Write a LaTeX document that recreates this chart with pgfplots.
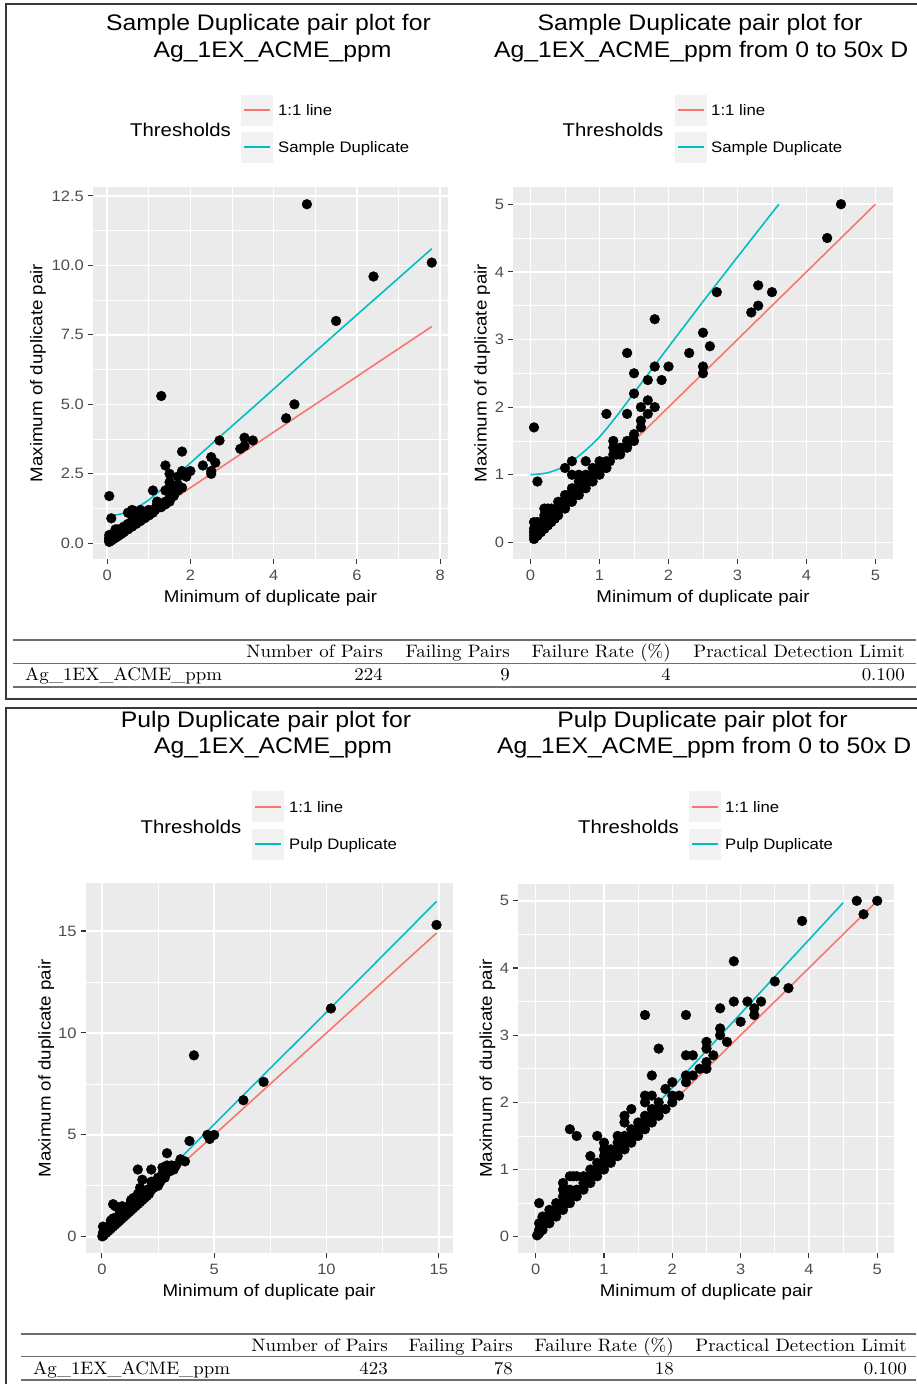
\documentclass[border=0pt]{standalone}
\usepackage{fontspec}
\usepackage{pgfplots}
\pgfplotsset{compat=1.18}
\usepackage{pgfplotstable}
\newfontfamily\arial[FakeStretch=1.1]{Liberation Sans}
\newfontfamily\lmr[FakeStretch=1.05]{lmroman10-regular.otf}
\definecolor{ggbg}{HTML}{EBEBEB}
\definecolor{keybg}{HTML}{F2F2F2}
\definecolor{ggred}{HTML}{F8766D}
\definecolor{ggteal}{HTML}{00BFC4}
\definecolor{tickc}{HTML}{333333}
\definecolor{ticklc}{HTML}{4D4D4D}
\definecolor{framec}{HTML}{3A3A3A}
\definecolor{rulec}{HTML}{6E6E6E}
\newcommand{\ttl}{\arial\fontsize{22.5}{27}\selectfont}
\newcommand{\axl}{\arial\fontsize{17}{20}\selectfont}
\newcommand{\tkl}{\arial\fontsize{15}{18}\selectfont}
\newcommand{\lgt}{\arial\fontsize{18.5}{22}\selectfont}
\newcommand{\lgl}{\arial\fontsize{15.2}{18}\selectfont}
\newcommand{\tbl}{\lmr\fontsize{18}{21}\selectfont}

\pgfplotstableread{
x y
0.05 0.05
0.05 0.1
0.05 0.15
0.05 0.2
0.05 0.3
0.05 1.7
0.1 0.1
0.1 0.15
0.1 0.2
0.1 0.3
0.1 0.9
0.15 0.15
0.15 0.2
0.15 0.3
0.2 0.2
0.2 0.25
0.2 0.3
0.2 0.4
0.2 0.5
0.25 0.25
0.25 0.3
0.25 0.4
0.25 0.5
0.3 0.3
0.3 0.35
0.3 0.4
0.3 0.5
0.35 0.35
0.35 0.45
0.4 0.4
0.4 0.5
0.4 0.6
0.45 0.5
0.45 0.6
0.5 0.5
0.5 0.6
0.5 0.7
0.5 1.1
0.55 0.6
0.55 0.7
0.6 0.6
0.6 0.7
0.6 0.8
0.6 1.0
0.6 1.2
0.65 0.7
0.65 0.8
0.7 0.7
0.7 0.8
0.7 0.9
0.7 1.0
0.75 0.8
0.75 0.9
0.8 0.8
0.8 0.9
0.8 1.0
0.8 1.2
0.85 0.9
0.9 0.9
0.9 1.0
0.9 1.1
0.95 1.0
1.0 1.0
1.0 1.1
1.0 1.2
1.05 1.1
1.1 1.1
1.1 1.2
1.1 1.9
1.15 1.2
1.2 1.3
1.2 1.4
1.2 1.5
1.25 1.3
1.3 1.3
1.3 1.4
1.3 5.3
1.35 1.4
1.4 1.4
1.4 1.5
1.4 1.9
1.4 2.8
1.45 1.5
1.5 1.5
1.5 1.6
1.5 2.2
1.5 2.5
1.6 1.7
1.6 1.8
1.6 2.0
1.7 1.9
1.7 2.1
1.7 2.4
1.8 2.0
1.8 2.6
1.8 3.3
1.9 2.4
2.0 2.6
2.3 2.8
2.5 2.5
2.5 2.6
2.5 3.1
2.6 2.9
2.7 3.7
3.2 3.4
3.3 3.5
3.3 3.8
3.5 3.7
4.3 4.5
4.5 5.0
4.8 12.2
5.5 8.0
6.4 9.6
7.8 10.1
}\sampledata

\pgfplotstableread{
x y
0.02 0.02
0.05 0.05
0.05 0.1
0.05 0.2
0.05 0.5
0.1 0.1
0.1 0.15
0.1 0.2
0.1 0.3
0.15 0.2
0.15 0.3
0.2 0.2
0.2 0.3
0.2 0.4
0.25 0.3
0.3 0.3
0.3 0.4
0.3 0.5
0.35 0.4
0.4 0.4
0.4 0.5
0.4 0.6
0.4 0.7
0.4 0.8
0.45 0.5
0.45 0.7
0.5 0.5
0.5 0.6
0.5 0.7
0.5 0.9
0.5 1.6
0.55 0.6
0.55 0.9
0.6 0.6
0.6 0.7
0.6 0.9
0.6 1.5
0.65 0.7
0.7 0.7
0.7 0.8
0.7 0.9
0.75 0.8
0.8 0.8
0.8 0.9
0.8 1.0
0.8 1.2
0.85 0.9
0.9 0.9
0.9 1.0
0.9 1.1
0.9 1.5
0.95 1.0
1.0 1.0
1.0 1.1
1.0 1.2
1.0 1.3
1.0 1.4
1.05 1.1
1.1 1.1
1.1 1.2
1.1 1.3
1.15 1.2
1.2 1.2
1.2 1.3
1.2 1.4
1.2 1.5
1.25 1.3
1.3 1.3
1.3 1.4
1.3 1.5
1.3 1.7
1.3 1.8
1.35 1.4
1.4 1.4
1.4 1.5
1.4 1.6
1.4 1.9
1.45 1.5
1.5 1.5
1.5 1.6
1.5 1.7
1.55 1.6
1.6 1.6
1.6 1.7
1.6 1.8
1.6 2.0
1.6 2.1
1.6 3.3
1.65 1.7
1.7 1.7
1.7 1.8
1.7 1.9
1.7 2.1
1.7 2.4
1.75 1.8
1.8 1.8
1.8 1.9
1.8 2.0
1.8 2.8
1.9 1.9
1.9 2.2
2.0 2.0
2.0 2.1
2.0 2.3
2.1 2.1
2.2 2.3
2.2 2.4
2.2 2.7
2.2 3.3
2.3 2.4
2.3 2.7
2.4 2.5
2.5 2.5
2.5 2.6
2.5 2.8
2.5 2.9
2.6 2.7
2.7 3.0
2.7 3.1
2.7 3.4
2.8 2.9
2.9 3.5
2.9 4.1
3.0 3.2
3.1 3.5
3.2 3.3
3.2 3.4
3.3 3.5
3.5 3.8
3.7 3.7
3.9 4.7
4.1 8.9
4.7 5.0
4.8 4.8
5.0 5.0
6.3 6.7
7.2 7.6
10.2 11.2
14.9 15.3
}\pulpdata

\pgfplotsset{gg/.style={
  scale only axis,
  anchor=south west,
  axis background/.style={fill=ggbg},
  axis line style={draw=none},
  grid=both,
  major grid style={white, line width=1.5pt},
  minor grid style={white, line width=0.75pt},
  tick align=outside, tick pos=left,
  major tick length=5pt, minor tick length=0pt,
  every tick/.style={color=tickc, line width=1.1pt},
  minor tick num=1,
  /pgf/number format/assume math mode=true,
  ticklabel style={font=\tkl, text=ticklc, inner sep=0pt},
  xticklabel style={anchor=north, yshift=-6pt},
  yticklabel style={anchor=east, xshift=-4pt},
  xlabel style={font=\axl, anchor=base, at={(axis description cs:0.5,0)}, yshift=-43.5pt},
  xlabel={Minimum of duplicate pair},
  ylabel={Maximum of duplicate pair},
  pts/.style={only marks, mark=*, mark size=4.9pt, draw=black, fill=black},
  redl/.style={ggred, line width=1.6pt, no marks},
  teall/.style={ggteal, line width=1.6pt, no marks, smooth},
}}

\begin{document}
\begin{tikzpicture}[x=1pt,y=1pt]
\path[use as bounding box] (0,0) rectangle (916,-1384);

% frames
\draw[framec, line width=2pt] (925,-3.7) -- (5.7,-3.7) -- (5.7,-699) -- (925,-699);
\draw[framec, line width=2pt] (925,-708) -- (6,-708) -- (6,-1395);

% ---------------- Top-left ----------------
\begin{axis}[gg, at={(93pt,-559pt)}, width=355pt, height=372pt,
  xmin=-0.34, xmax=8.19, ymin=-0.565, ymax=12.82,
  xtick={0,2,4,6,8}, ytick={0,2.5,5,7.5,10,12.5},
  xticklabels={0,2,4,6,8}, yticklabels={0.0,2.5,5.0,7.5,10.0,12.5},
  ylabel style={font=\axl, anchor=base, at={(axis description cs:-0.1423,0.5)}}]
\addplot[pts] table {\sampledata};
\addplot[redl] coordinates {(0.05,0.05) (7.8,7.8)};
\addplot[teall] coordinates {(0.05,1.0) (0.25,1.03) (0.5,1.13) (0.75,1.32) (1.0,1.56) (1.25,1.87) (1.5,2.21) (1.75,2.55) (2.0,2.89) (2.5,3.56) (3.0,4.22) (3.5,4.88) (4.0,5.55) (5.0,6.89) (6.0,8.22) (7.0,9.54) (7.8,10.6)};
\end{axis}

% ---------------- Top-right ----------------
\begin{axis}[gg, at={(513.3pt,-559.3pt)}, width=379.4pt, height=372pt,
  xmin=-0.25, xmax=5.25, ymin=-0.25, ymax=5.25,
  xtick={0,1,2,3,4,5}, ytick={0,1,2,3,4,5},
  xticklabels={0,1,2,3,4,5}, yticklabels={0,1,2,3,4,5},
  ylabel style={font=\axl, anchor=base, at={(axis description cs:-0.0706,0.5)}}]
\addplot[pts, restrict x to domain=-1:5.05, restrict y to domain=-1:5.2] table {\sampledata};
\addplot[redl] coordinates {(0,0) (5,5)};
\addplot[teall] coordinates {(0,1.0) (0.25,1.03) (0.5,1.13) (0.75,1.32) (1.0,1.56) (1.25,1.87) (1.5,2.21) (1.75,2.55) (2.0,2.89) (2.5,3.56) (3.0,4.22) (3.6,5.0)};
\end{axis}

% ---------------- Bottom-left ----------------
\begin{axis}[gg, at={(85.7pt,-1253.3pt)}, width=367pt, height=370pt,
  xmin=-0.72, xmax=15.62, ymin=-0.81, ymax=17.34,
  xtick={0,5,10,15}, ytick={0,5,10,15},
  xticklabels={0,5,10,15}, yticklabels={0,5,10,15},
  ylabel style={font=\axl, anchor=base, at={(axis description cs:-0.0959,0.5)}}]
\addplot[pts] table {\pulpdata};
\addplot[redl] coordinates {(0,0) (14.9,14.9)};
\addplot[teall] coordinates {(0.02,0.28) (0.25,0.38) (0.5,0.6) (1.0,1.12) (2.0,2.22) (3.0,3.32) (4.0,4.42) (6.0,6.62) (10.0,11.02) (14.9,16.45)};
\end{axis}

% ---------------- Bottom-right ----------------
\begin{axis}[gg, at={(518.3pt,-1253.3pt)}, width=376pt, height=369.3pt,
  xmin=-0.255, xmax=5.25, ymin=-0.247, ymax=5.25,
  xtick={0,1,2,3,4,5}, ytick={0,1,2,3,4,5},
  xticklabels={0,1,2,3,4,5}, yticklabels={0,1,2,3,4,5},
  ylabel style={font=\axl, anchor=base, at={(axis description cs:-0.07,0.5)}}]
\addplot[pts, restrict x to domain=-1:5.05, restrict y to domain=-1:5.2] table {\pulpdata};
\addplot[redl] coordinates {(0,0) (5,5)};
\addplot[teall] coordinates {(0.02,0.28) (0.1,0.3) (0.25,0.38) (0.5,0.6) (0.75,0.85) (1.0,1.12) (1.5,1.67) (2.0,2.22) (3.0,3.32) (4.0,4.42) (4.5,4.97)};
\end{axis}

% ---------------- Titles ----------------
\node[font=\ttl, anchor=base, inner sep=0pt] at (268.5,-30.5) {Sample Duplicate pair plot for};
\node[font=\ttl, anchor=base, inner sep=0pt] at (272.5,-57) {Ag\_1EX\_ACME\_ppm};
\node[font=\ttl, anchor=base, inner sep=0pt] at (700,-30.5) {Sample Duplicate pair plot for};
\node[font=\ttl, anchor=base west, inner sep=0pt] at (494,-57) {Ag\_1EX\_ACME\_ppm from 0 to 50x D};
\node[font=\ttl, anchor=base, inner sep=0pt] at (266,-727) {Pulp Duplicate pair plot for};
\node[font=\ttl, anchor=base, inner sep=0pt] at (273,-753.5) {Ag\_1EX\_ACME\_ppm};
\node[font=\ttl, anchor=base, inner sep=0pt] at (702.5,-727) {Pulp Duplicate pair plot for};
\node[font=\ttl, anchor=base west, inner sep=0pt] at (497,-753.5) {Ag\_1EX\_ACME\_ppm from 0 to 50x D};

% ---------------- Legends ----------------
% top-left
\node[font=\lgt, anchor=base west, inner sep=0pt] at (130,-136.5) {Thresholds};
\fill[keybg] (241,-94.5) rectangle (273,-125.5);
\fill[keybg] (241,-131.5) rectangle (273,-162.5);
\draw[ggred, line width=1.8pt] (244,-110) -- (270,-110);
\draw[ggteal, line width=1.8pt] (244,-147) -- (270,-147);
\node[font=\lgl, anchor=base west, inner sep=0pt] at (278,-115.4) {1:1 line};
\node[font=\lgl, anchor=base west, inner sep=0pt] at (278,-152.4) {Sample Duplicate};
% top-right
\node[font=\lgt, anchor=base west, inner sep=0pt] at (562.5,-136.5) {Thresholds};
\fill[keybg] (675,-94.5) rectangle (707,-125.5);
\fill[keybg] (675,-131.5) rectangle (707,-162.5);
\draw[ggred, line width=1.8pt] (678,-110) -- (704,-110);
\draw[ggteal, line width=1.8pt] (678,-147) -- (704,-147);
\node[font=\lgl, anchor=base west, inner sep=0pt] at (711,-115.4) {1:1 line};
\node[font=\lgl, anchor=base west, inner sep=0pt] at (711,-152.4) {Sample Duplicate};
% bottom-left
\node[font=\lgt, anchor=base west, inner sep=0pt] at (140.5,-833.5) {Thresholds};
\fill[keybg] (252,-791) rectangle (284,-822);
\fill[keybg] (252,-828.5) rectangle (284,-859.5);
\draw[ggred, line width=1.8pt] (255,-806.7) -- (281,-806.7);
\draw[ggteal, line width=1.8pt] (255,-844) -- (281,-844);
\node[font=\lgl, anchor=base west, inner sep=0pt] at (289,-812) {1:1 line};
\node[font=\lgl, anchor=base west, inner sep=0pt] at (289,-849.4) {Pulp Duplicate};
% bottom-right
\node[font=\lgt, anchor=base west, inner sep=0pt] at (578,-833.5) {Thresholds};
\fill[keybg] (689,-791) rectangle (721,-822);
\fill[keybg] (689,-828.5) rectangle (721,-859.5);
\draw[ggred, line width=1.8pt] (692,-806.7) -- (718,-806.7);
\draw[ggteal, line width=1.8pt] (692,-844) -- (718,-844);
\node[font=\lgl, anchor=base west, inner sep=0pt] at (725,-812) {1:1 line};
\node[font=\lgl, anchor=base west, inner sep=0pt] at (725,-849.4) {Pulp Duplicate};

% ---------------- Tables ----------------
\draw[rulec, line width=1.5pt] (13,-640) -- (916,-640);
\draw[rulec, line width=1.0pt] (13,-663) -- (916,-663);
\draw[rulec, line width=1.5pt] (13,-687) -- (916,-687);
\begin{scope}[every node/.style={font=\tbl, inner sep=0pt}]
\node[anchor=base east] at (383,-657.5) {Number of Pairs};
\node[anchor=base east] at (510,-657.5) {Failing Pairs};
\node[anchor=base east] at (671,-657.5) {Failure Rate (\%)};
\node[anchor=base east] at (905,-657.5) {Practical Detection Limit};
\node[anchor=base west] at (25,-680.5) {Ag\_1EX\_ACME\_ppm};
\node[anchor=base east] at (383,-680.5) {224};
\node[anchor=base east] at (510,-680.5) {9};
\node[anchor=base east] at (671,-680.5) {4};
\node[anchor=base east] at (905,-680.5) {0.100};
\end{scope}
\draw[rulec, line width=1.5pt] (21,-1334) -- (916,-1334);
\draw[rulec, line width=1.0pt] (21,-1356) -- (916,-1356);
\draw[rulec, line width=1.5pt] (21,-1380) -- (916,-1380);
\begin{scope}[every node/.style={font=\tbl, inner sep=0pt}]
\node[anchor=base east] at (388,-1351) {Number of Pairs};
\node[anchor=base east] at (513,-1351) {Failing Pairs};
\node[anchor=base east] at (674,-1351) {Failure Rate (\%)};
\node[anchor=base east] at (907,-1351) {Practical Detection Limit};
\node[anchor=base west] at (33,-1374) {Ag\_1EX\_ACME\_ppm};
\node[anchor=base east] at (388,-1374) {423};
\node[anchor=base east] at (513,-1374) {78};
\node[anchor=base east] at (674,-1374) {18};
\node[anchor=base east] at (907,-1374) {0.100};
\end{scope}
\end{tikzpicture}
\end{document}
